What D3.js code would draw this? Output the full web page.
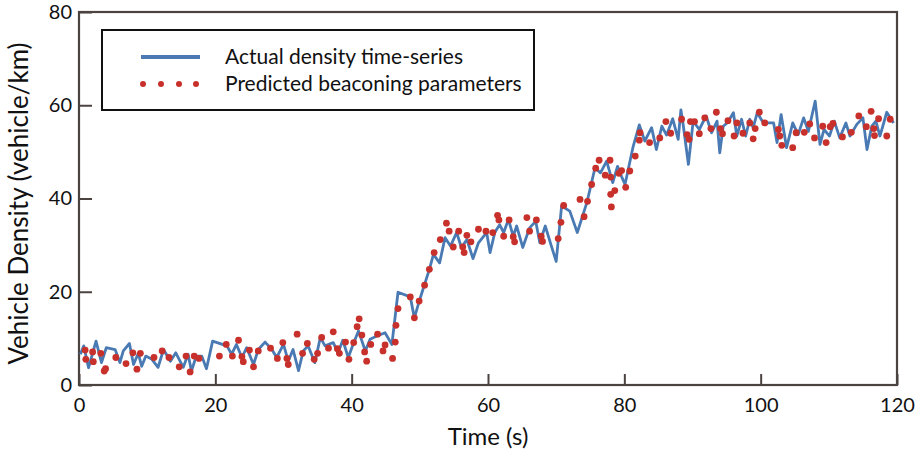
<!DOCTYPE html>
<html>
<head>
<meta charset="utf-8">
<script src="https://cdn.jsdelivr.net/npm/d3@7"></script>
<style>
  body { margin: 0; background: #fff; }
  svg { display: block; font-family: Lato, 'Open Sans', sans-serif; }
</style>
</head>
<body>
<svg id="chart" width="921" height="452"></svg>
<script>
// Actual density time-series (blue line)
const actualTime = [0.2, 0.7, 1.4, 2.5, 3.3, 4.0, 5.3, 6.0, 6.5, 7.4, 8.0, 8.7, 9.2, 9.8, 10.7, 11.6, 12.4, 13.4, 14.2, 15.3, 16.0, 16.5, 17.2, 18.0, 18.7, 19.6,
  21.7, 22.4, 23.1, 23.9, 24.6, 25.6, 26.3, 27.3, 28.3, 29.0, 30.0, 30.7, 31.4, 32.2, 32.9, 33.6, 34.6, 35.4, 36.1, 37.3, 38.0, 38.7, 39.5, 40.2, 41.0, 42.0, 42.7, 43.7, 44.9, 45.9,
  46.8, 48.6, 49.2, 50.0, 51.4, 52.0, 52.9, 53.7, 54.5, 55.4, 56.1, 56.9, 57.8, 58.6, 59.8, 60.3, 61.0, 61.7, 62.3, 63.0, 63.7, 64.2, 65.1, 66.1, 67.0, 67.6, 68.4, 69.3, 70.0,
  70.8, 72.0, 73.1, 74.5, 75.7, 76.5, 77.4, 78.3, 79.0, 79.6, 80.1, 81.3, 82.2,
  83.0, 84.0, 84.7, 85.5, 86.2, 87.1, 87.9, 88.3, 88.6, 89.4, 90.1, 91.0, 92.0, 92.8, 93.6, 94.0, 94.5, 95.1, 96.0, 96.5, 97.2, 97.8, 98.4, 98.9, 99.5, 100.4, 101.9, 102.4,
  103.0, 103.8, 104.7, 105.5, 106.3, 107.0, 108.0, 108.7, 109.3, 110.1, 110.8, 111.6, 112.5, 113.1, 114.1, 115.0, 115.6, 116.3, 116.9, 117.5, 118.5, 119.5]
const actualDensity = [6.6, 8.4, 3.7, 9.4, 4.8, 8.0, 7.6, 4.8, 7.3, 8.9, 4.4, 6.8, 4.0, 6.2, 5.5, 3.8, 7.6, 5.1, 6.9, 3.8, 6.6, 3.0, 6.2, 6.2, 3.5, 9.4,
  8.4, 6.6, 8.7, 5.9, 8.0, 4.4, 7.6, 9.2, 7.6, 5.9, 8.7, 5.1, 7.6, 3.1, 7.3, 8.4, 4.8, 10.2, 8.4, 9.1, 6.9, 9.6, 5.9, 8.7, 11.6, 7.3, 9.8, 10.5, 11.2, 8.7,
  19.9, 18.9, 14.4, 18.4, 24.8, 28.0, 26.2, 31.6, 29.8, 32.7, 29.5, 31.2, 27.1, 30.5, 32.7, 28.4, 32.7, 34.4, 32.7, 35.5, 31.9, 34.1, 29.5, 33.7, 35.1, 30.5, 34.1, 29.8, 26.5,
  38.4, 37.3, 32.7, 39.1, 46.6, 45.5, 48.0, 43.4, 46.9, 44.7, 43.0, 51.2, 55.8,
  52.3, 55.2, 50.5, 55.5, 53.6, 57.1, 52.7, 59.0, 56.2, 47.3, 56.6, 54.8, 57.7, 54.1, 56.6, 49.8, 55.5, 56.2, 58.4, 53.4, 57.0, 53.4, 57.0, 55.2, 58.4, 56.2, 56.2, 52.0,
  58.0, 50.9, 56.2, 53.7, 57.3, 54.4, 60.9, 51.6, 54.8, 53.4, 56.6, 53.0, 56.2, 53.4, 55.9, 57.3, 50.5, 55.5, 56.6, 53.4, 58.5, 56.2]

// Predicted beaconing parameters (red dots)
const predictedTime = [0.9, 1.0, 2.0, 2.1, 3.2, 3.7, 3.9, 5.4, 6.9, 7.9, 8.5, 9.0, 11.0, 12.2, 13.2, 14.7, 15.7, 16.3, 16.9, 17.6,
  20.6, 21.6, 22.5, 23.4, 23.9, 24.1, 25.0, 25.6, 26.3, 28.1, 29.1, 29.9, 30.5, 30.7, 32.0, 32.8, 33.5, 34.5, 35.0, 35.6, 36.6, 37.3, 37.9, 38.2, 39.1, 39.6,
  40.3, 40.8, 41.1, 41.5, 41.9, 42.2, 42.8, 43.8, 44.6, 44.9, 46.0, 46.4, 46.5, 46.8, 48.6, 49.2, 49.9, 50.7, 51.4, 52.1, 53.0, 53.9, 54.3, 54.9, 55.7, 56.3, 56.5, 56.9, 57.5, 58.6, 59.7,
  60.7, 61.4, 61.6, 62.3, 63.1, 63.7, 63.9, 65.7, 66.1, 67.1, 67.8, 68.0, 70.3, 70.7, 71.1, 73.5, 74.1, 74.6, 75.2, 75.8, 76.3, 77.2, 77.9, 78.0, 78.0, 78.1, 78.6, 79.2, 79.6,
  80.2, 80.8, 81.6, 82.2, 82.3, 83.7, 85.2, 86.1, 86.8, 88.4, 89.2, 89.5, 89.7, 90.3, 91.0, 91.8, 92.7, 93.5, 94.1, 94.4, 95.2, 96.1, 96.5, 97.4, 98.4, 98.9, 99.2, 99.8,
  100.6, 102.6, 102.8, 103.1, 104.7, 105.2, 106.4, 107.2, 107.9, 109.1, 109.6, 110.2, 110.6, 112.0, 113.3, 114.4, 115.5, 116.2, 116.6, 116.7, 117.3, 118.5, 119.0]
const predictedDensity = [7.5, 5.5, 7.1, 5.0, 6.8, 3.0, 3.5, 5.9, 4.6, 6.9, 3.4, 6.8, 5.9, 7.3, 5.9, 3.9, 6.2, 2.8, 6.2, 5.7,
  6.2, 8.7, 6.2, 9.6, 6.1, 5.0, 7.5, 3.9, 7.3, 7.9, 5.7, 9.1, 5.7, 4.4, 10.9, 6.8, 8.9, 5.5, 6.8, 10.2, 7.9, 11.4, 7.8, 6.8, 9.2, 5.5,
  9.1, 12.5, 14.2, 10.7, 7.1, 5.1, 8.7, 10.9, 7.3, 8.6, 5.7, 9.2, 12.8, 16.4, 18.9, 14.4, 18.0, 21.4, 24.8, 28.4, 31.2, 34.7, 33.0, 29.6, 33.0, 29.6, 28.4, 32.1, 30.7, 33.4, 33.0,
  32.7, 36.4, 35.4, 31.9, 35.4, 31.8, 30.7, 35.9, 33.0, 35.4, 31.9, 30.8, 31.4, 34.9, 38.5, 39.8, 36.1, 39.4, 43.0, 46.5, 48.2, 45.0, 48.2, 44.6, 40.9, 38.2, 41.7, 45.4, 46.0,
  42.4, 45.9, 49.1, 52.5, 54.1, 52.0, 53.0, 56.5, 54.0, 57.0, 53.7, 52.7, 56.5, 56.5, 53.9, 57.3, 55.0, 58.5, 55.0, 53.9, 56.7, 53.4, 56.2, 54.0, 56.2, 52.8, 55.0, 58.5,
  56.2, 54.8, 53.4, 51.4, 50.9, 54.1, 54.2, 56.0, 53.0, 55.5, 52.0, 55.4, 56.1, 53.2, 54.2, 57.7, 55.4, 58.7, 55.0, 53.5, 57.1, 53.4, 57.0]

const xTicks = [0, 20, 40, 60, 80, 100, 120]
const yTicks = [0, 20, 40, 60, 80]
const seriesNames = ['Actual density time-series', 'Predicted beaconing parameters']

const blue = '#4a7ab3'
const red = '#c8312b'
const frameColor = '#4b4340'

const svg = d3.select('#chart')
const plotLeft = 79, plotRight = 897, plotTop = 12, plotBottom = 385

const x = d3.scaleLinear().domain([0, 120]).range([plotLeft, plotRight])
const y = d3.scaleLinear().domain([0, 80]).range([plotBottom, plotTop])

// ------------------
// Axes (ticks point inward)
// ------------------
const xAxis = svg.append('g')
  .attr('transform', `translate(0,${plotBottom})`)
  .call(d3.axisBottom(x).tickValues(xTicks).tickSizeInner(-11).tickSizeOuter(0).tickPadding(13))
const yAxis = svg.append('g')
  .attr('transform', `translate(${plotLeft},0)`)
  .call(d3.axisLeft(y).tickValues(yTicks).tickSizeInner(-13).tickSizeOuter(0).tickPadding(7))

for (const ax of [xAxis, yAxis]) {
  ax.select('.domain').remove()
  ax.selectAll('line').attr('stroke', frameColor).attr('stroke-width', 2)
  ax.selectAll('text').attr('fill', '#111').attr('font-size', 20).attr('font-family', 'Lato, sans-serif')
}

// Frame
svg.append('rect')
  .attr('x', plotLeft).attr('y', plotTop)
  .attr('width', plotRight - plotLeft).attr('height', plotBottom - plotTop)
  .attr('fill', 'none')
  .attr('stroke', frameColor)
  .attr('stroke-width', 2.2)

// ------------------
// Series
// ------------------
const lineData = actualTime.map((t, i) => [t, actualDensity[i]])
svg.append('path')
  .datum(lineData)
  .attr('fill', 'none')
  .attr('stroke', blue)
  .attr('stroke-width', 2.8)
  .attr('stroke-linejoin', 'round')
  .attr('d', d3.line().x(d => x(d[0])).y(d => y(d[1])))

svg.append('g')
  .selectAll('circle')
  .data(predictedTime.map((t, i) => [t, predictedDensity[i]]))
  .join('circle')
  .attr('cx', d => x(d[0]))
  .attr('cy', d => y(d[1]))
  .attr('r', 3.4)
  .attr('fill', red)

// ------------------
// Axis titles
// ------------------
svg.append('text')
  .attr('x', (plotLeft + plotRight) / 2)
  .attr('y', 445)
  .attr('text-anchor', 'middle')
  .attr('font-size', 24)
  .attr('fill', '#111')
  .text('Time (s)')

svg.append('text')
  .attr('transform', `translate(28,${(plotTop + plotBottom) / 2 + 5}) rotate(-90)`)
  .attr('text-anchor', 'middle')
  .attr('font-size', 26)
  .attr('fill', '#111')
  .text('Vehicle Density (vehicle/km)')

// ------------------
// Legend
// ------------------
const legend = svg.append('g')
legend.append('rect')
  .attr('x', 102).attr('y', 30)
  .attr('width', 432).attr('height', 80)
  .attr('fill', '#fff')
  .attr('stroke', '#111')
  .attr('stroke-width', 2)

legend.append('line')
  .attr('x1', 141).attr('x2', 200)
  .attr('y1', 57).attr('y2', 57)
  .attr('stroke', blue)
  .attr('stroke-width', 4)

legend.selectAll('circle')
  .data([143, 161, 179, 196])
  .join('circle')
  .attr('cx', d => d).attr('cy', 84)
  .attr('r', 3)
  .attr('fill', red)

legend.selectAll('text')
  .data(seriesNames)
  .join('text')
  .attr('x', 225)
  .attr('y', (d, i) => 64 + i * 27)
  .attr('font-size', 21)
  .attr('fill', '#111')
  .text(d => d)
</script>
</body>
</html>
